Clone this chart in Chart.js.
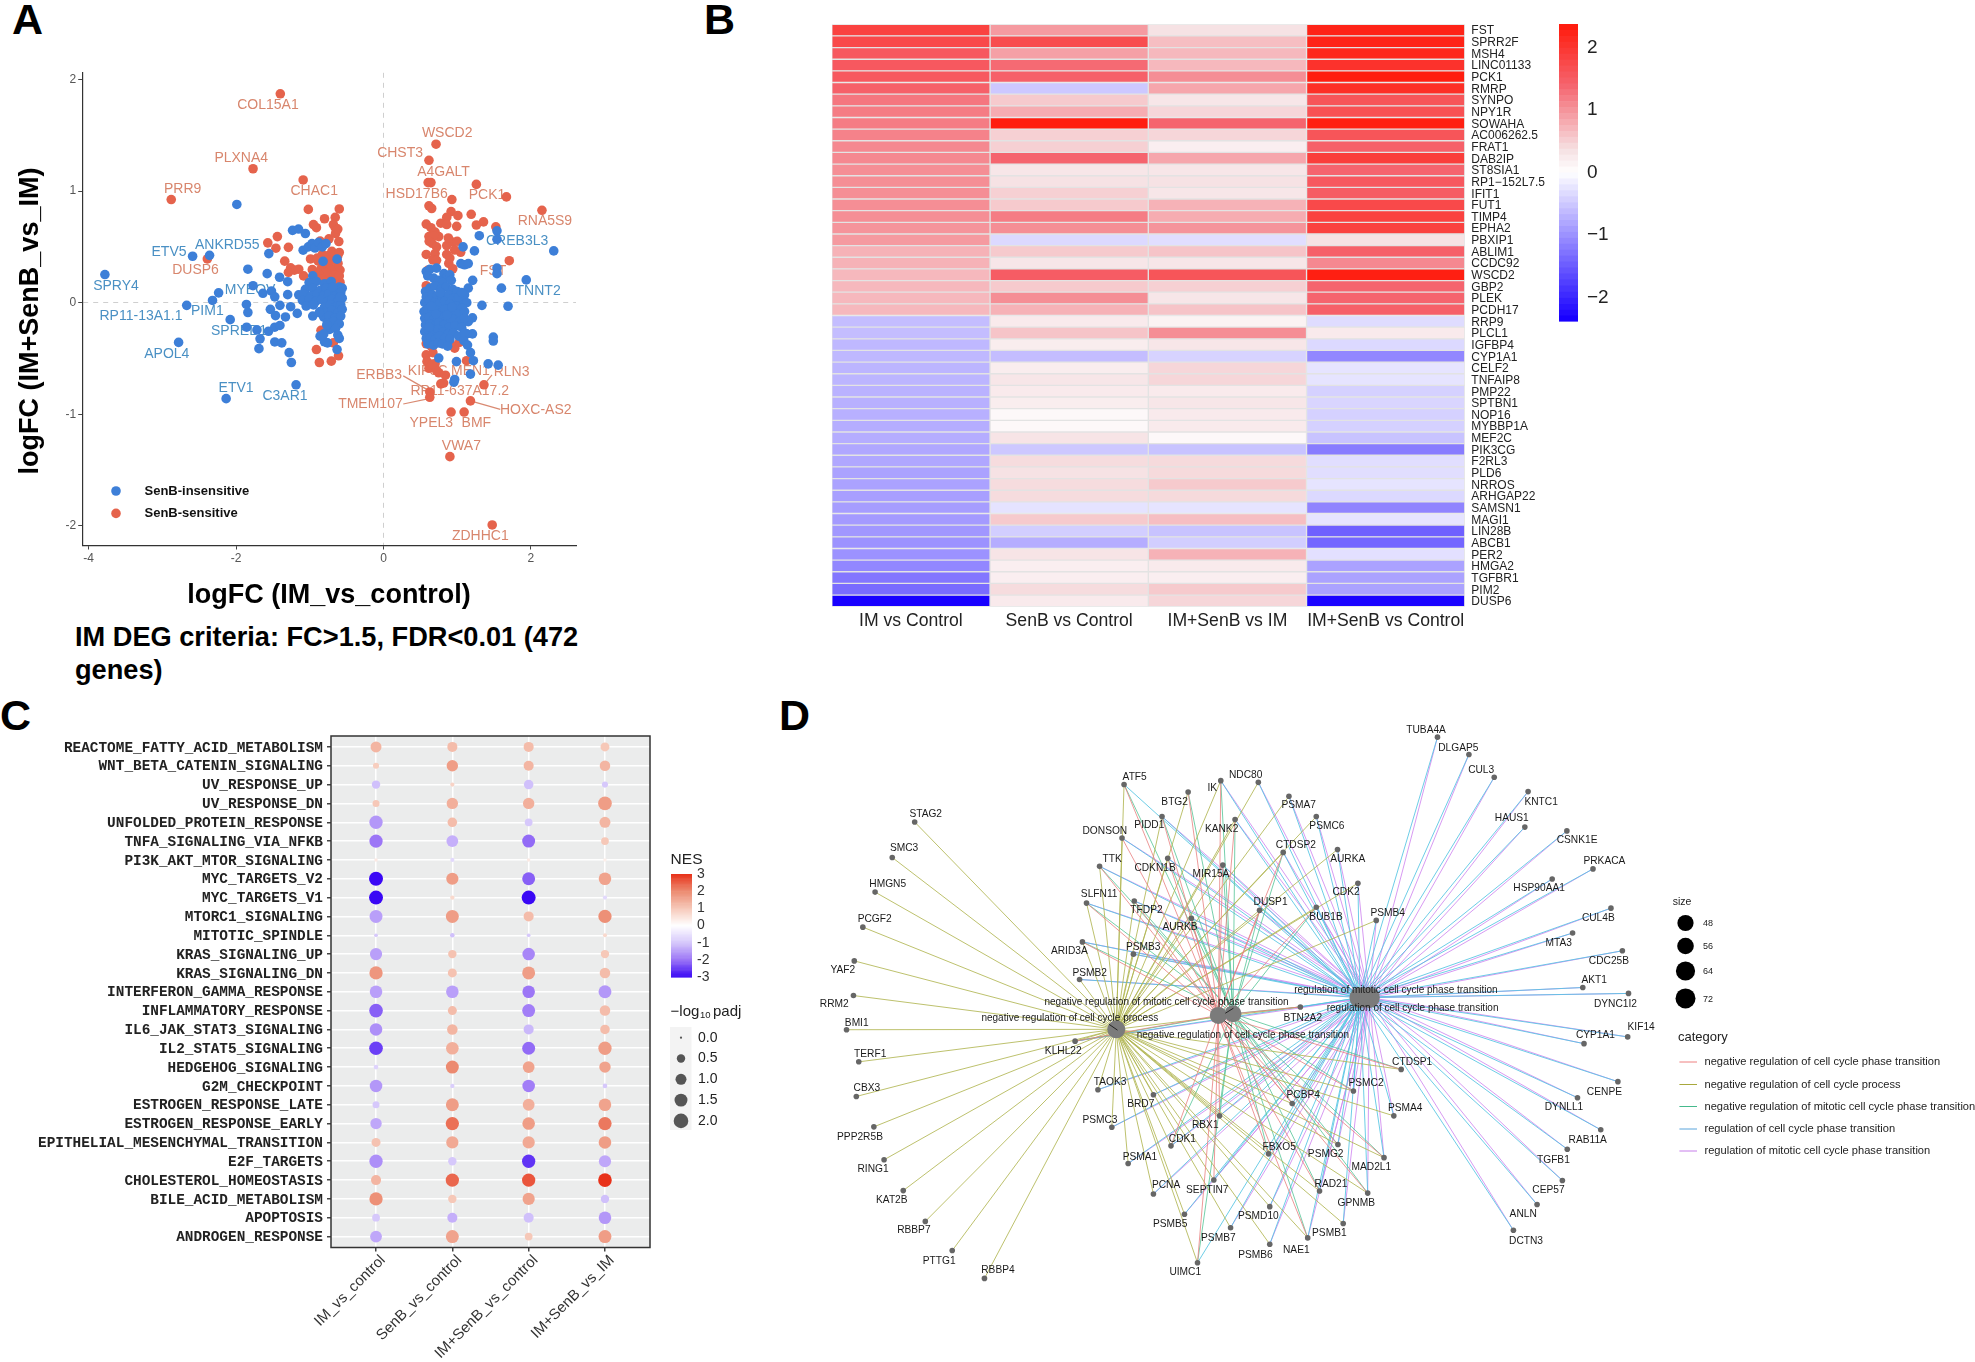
<!DOCTYPE html>
<html><head><meta charset="utf-8">
<script src="https://cdn.jsdelivr.net/npm/chart.js@4/dist/chart.umd.min.js"></script>
<style>
html,body{margin:0;padding:0;background:#fff}
#page{position:relative;width:1975px;height:1362px;overflow:hidden;background:#fff;font-family:"Liberation Sans",Arial,sans-serif}
canvas{position:absolute}
.tag{position:absolute;font-weight:bold;font-size:43px;line-height:43px;color:#000}
.note{position:absolute;font-weight:bold;font-size:27.2px;line-height:33px;color:#000;left:75px;top:620px;width:525px}
</style></head><body><div id="page">
<div class="tag" style="left:12px;top:-2px">A</div>
<div class="tag" style="left:704px;top:-2px">B</div>
<div class="tag" style="left:0px;top:694px">C</div>
<div class="tag" style="left:779px;top:694px">D</div>
<div class="note">IM DEG criteria: FC&gt;1.5, FDR&lt;0.01 (472 genes)</div>
</div>
<script>
/* ---------- Panel A data ---------- */
const senbInsensitive=[[-3.78,.252],[-2.78,-.356],[-2.67,-.024],[-2.59,.416],[-2.36,.424],[-2.32,.02],[-2.237,.088],[-2.135,-.86],[-2.08,-.152],[-1.99,.88],[-1.186,-.736],
[-1.234,.648],[-1.153,.66],[-1.06,.62],[-1.556,.44],[-1.84,.30],[-1.578,.26],[-1.41,.228],[-1.30,.188],[-1.77,.152],[-1.636,.084],[-1.52,.104],[-1.475,.052],[-1.30,.072],[-1.86,-.016],[-1.84,-.088],[-1.535,-.06],[-1.465,-.116],[-1.33,-.128],[-1.405,-.024],[-1.26,-.036],[-1.17,-.096],[-1.857,-.22],[-1.717,-.244],[-1.56,-.256],[-1.475,-.22],[-1.405,-.204],[-1.675,-.324],[-1.69,-.412],[-1.475,-.352],[-1.38,-.36],[-1.28,-.448],[-1.25,-.536],
[-1.09,.47],[-1.02,.5],[-.97,.53],[-.93,.49],[-.88,.54],[-.83,.5],[-.78,.53],[-.82,.37],[-.63,.39],
[-.96,.24],[-1.01,.18],[-.91,.19],[-.8,.17],[-.71,.19],[-.6,.14],
[-1.06,.12],[-.96,.13],[-.86,.11],[-.78,.13],[-.68,.12],[-.61,.1],[-.56,.13],[-1.15,.07],[-1.08,.08],[-.98,.06],[-.9,.08],[-.82,.06],[-.74,.08],[-.66,.06],[-.58,.09],
[-1.1,.02],[-1.01,.03],[-.92,.01],[-.84,.03],[-.76,.01],[-.7,.03],[-.62,.01],[-.56,.04],[-1.05,-.03],[-.95,-.02],[-.8,-.04],[-.72,-.02],[-.65,-.04],[-.58,-.02],
[-.86,-.08],[-.78,-.09],[-.7,-.07],[-.62,-.09],[-.56,-.06],[-.96,-.12],[-.81,-.13],[-.74,-.12],[-.66,-.14],[-.58,-.12],[-.76,-.18],[-.68,-.17],[-.6,-.19],[-.73,-.24],[-.65,-.23],[-.86,-.3],[-.81,-.28],[-.62,-.29],[-.6,-.32],[-.8,-.35],[-.76,-.36],[-.63,-.42],[-.87,-.09],[-.69,.14],[-.77,-.2],[-.59,.05],
[.58,.28],[.63,.3],[.72,.31],[.82,.26],[.85,.22],[.9,.25],[.6,.24],[.68,.22],[.75,.2],[.8,.18],[.92,.2],[1.05,.35],[1.1,.34],[1.15,.35],[1.08,.5],[1.234,.464],[1.3,.6],[1.54,.644],[1.54,.568],[1.54,.31],[1.54,.26],[1.6,.13],[1.21,.2],[1.15,.13],[1.1,.07],[1.336,-.024],[1.69,-.032],[2.31,.464],[1.937,.204],[1.49,-.308],[1.49,-.344],[1.42,-.548],[1.556,-.56],[1.22,-.52],[1.18,-.448],[.75,-.496],[.99,-.528],[1.18,-.64],[.966,-.688],[.955,-.712],[1.207,-.136],[1.207,-.28],[1.15,-.17],[1.13,-.28],
[.57,.1],[.63,.13],[.7,.15],[.78,.12],[.85,.14],[.94,.12],[1.0,.1],[.58,.05],[.66,.07],[.73,.06],[.8,.05],[.88,.07],[.95,.04],[1.03,.02],[1.08,.03],[1.13,.0],
[.56,.0],[.62,.02],[.69,.0],[.76,-.01],[.83,.01],[.9,-.01],[.98,-.03],[1.07,-.05],[.55,-.08],[.6,-.06],[.66,-.09],[.72,-.07],[.78,-.09],[.84,-.06],[.92,-.08],[1.0,-.1],[1.1,-.08],
[.56,-.14],[.62,-.13],[.68,-.15],[.74,-.12],[.8,-.14],[.87,-.16],[.95,-.15],[1.03,-.17],[1.1,-.14],[.57,-.2],[.63,-.19],[.69,-.21],[.75,-.18],[.82,-.2],[.89,-.22],[.97,-.21],[1.06,-.22],
[.56,-.26],[.62,-.25],[.68,-.27],[.74,-.24],[.81,-.26],[.88,-.28],[.95,-.27],[1.02,-.3],[1.1,-.27],[.58,-.32],[.64,-.31],[.7,-.33],[.76,-.3],[.83,-.32],[.9,-.33],[1.09,-.34],
[.6,-.37],[.68,-.38],[.74,-.36],[.8,-.37],[.87,-.39],[1.14,-.38],[.62,-.22],[.71,-.1],[.65,-.03],[.86,-.11],[.77,.09],[.93,-.04],[1.02,.05],[1.06,.09]];
const senbSensitive=[[-1.40,1.872],[-1.77,1.2],[-2.88,.924],[-2.39,.392],[-1.09,1.1],[-1.02,.836],[-.6,.84],[-.655,.764],[-.8,.752],[-.91,.672],[-.655,.672],[-.74,.572],[-.86,.552],[-.606,.548],[-1.44,.592],[-1.57,.536],[-1.46,.488],[-1.29,.496],[-1.34,.372],[-1.26,.312],[-1.21,.292],[-1.29,.272],[-1.084,.24],[-.966,.296],[-.99,.392],[-.885,.372],[-.75,.352],[-.644,.432],[-.617,.352],[-.7,.292],[-.59,.292],[-.75,.212],[-.59,.184],[-.655,.172],[-.848,-.248],[-.68,-.36],[-.91,-.42],[-.87,-.536],[-.708,-.524],[-.61,-.476],[-.9,.4],[-.8,.33],[-.85,.3],[-.7,.38],[-.64,.31],[-.95,.7],[-.68,.7],[-.72,.3],[-.66,.25],[-.78,.27],[-.62,.42],[-.83,.43],[-.76,.42],[-.7,.46],[-.6,.45],[-.88,.26],[-1.15,.3],[-.65,.62],[-.62,.66],[-.6,.24],[-.84,.21],
[.713,1.42],[.617,1.276],[.606,1.076],[.644,1.076],[1.26,1.06],[.928,.924],[1.668,.948],[2.15,.828],[.617,.868],[.654,.844],[.917,.816],[.858,.764],[1.01,.78],[1.19,.792],[1.357,.724],[1.26,.696],[1.524,.68],[.778,.712],[.858,.7],[.993,.684],[.58,.704],[.644,.672],[.7,.632],[.617,.592],[.75,.592],[.66,.532],[.94,.544],[.858,.512],[.966,.472],[1.047,.452],[.58,.432],[.70,.44],[.858,.432],[.67,.384],[.886,.352],[.94,.304],[1.707,.376],[.58,.152],[.6,.29],[.68,.6],[.62,.55],[.72,.5],[.88,.58],[1.0,.55],[.9,.4],[.72,.38],
[.58,-.368],[.644,-.388],[.58,-.468],[.67,-.448],[.59,-.528],[.7,-.548],[.617,-.588],[.75,-.628],[.778,-.728],[.816,-.72],[.966,-.408],[1.03,-.356],[.91,-.368],[1.127,-.52],[1.363,-.736],[.628,-.8],[.628,-.848],[1.18,-.88],[.917,-.98],[1.094,-.98],[.901,-1.38],[1.475,-1.992],[.72,-.608],[.66,-.55],[.84,-.65]];
const scatterLabelNames=["COL15A1","WSCD2","CHST3","PLXNA4","A4GALT","PRR9","CHAC1","HSD17B6","PCK1","RNA5S9","DUSP6","FST","ERBB3","RLN3","KIF5C","MEN1","RP11-637A17.2","TMEM107","HOXC-AS2","YPEL3","BMF","VWA7","ZDHHC1","ANKRD55","ETV5","CREB3L3","SPRY4","MYEOV","TNNT2","RP11-13A1.1","PIM1","SPRED1","APOL4","ETV1","C3AR1"];
const scatterLabelX=[-1.567,.864,.225,-1.93,.815,-2.725,-.94,.45,1.405,2.19,-2.55,1.486,-.059,1.738,.6,1.18,1.035,-.177,2.066,.649,1.26,1.057,1.314,-2.12,-2.91,1.813,-3.63,-1.81,2.098,-3.29,-2.39,-1.96,-2.94,-2.0,-1.336];
const scatterLabelY=[1.772,1.516,1.344,1.296,1.172,1.02,.996,.972,.96,.728,.288,.28,-.648,-.62,-.616,-.616,-.796,-.908,-.964,-1.08,-1.08,-1.288,-2.088,.52,.456,.552,.152,.112,.104,-.124,-.08,-.252,-.46,-.768,-.836];
const scatterLabelSensitiveCount=23;
const leaderFromX=[.268,.268,1.585,1.472],leaderFromY=[-.656,-.908,-.956,-.648],leaderToX=[.617,.617,1.18,1.363],leaderToY=[-.788,-.86,-.88,-.736];
/* ---------- Panel B data ---------- */
const heatGenes=["FST","SPRR2F","MSH4","LINC01133","PCK1","RMRP","SYNPO","NPY1R","SOWAHA","AC006262.5","FRAT1","DAB2IP","ST8SIA1","RP1−152L7.5","IFIT1","FUT1","TIMP4","EPHA2","PBXIP1","ABLIM1","CCDC92","WSCD2","GBP2","PLEK","PCDH17","RRP9","PLCL1","IGFBP4","CYP1A1","CELF2","TNFAIP8","PMP22","SPTBN1","NOP16","MYBBP1A","MEF2C","PIK3CG","F2RL3","PLD6","NRROS","ARHGAP22","SAMSN1","MAGI1","LIN28B","ABCB1","PER2","HMGA2","TGFBR1","PIM2","DUSP6"];
const heatColumns=["IM vs Control","SenB vs Control","IM+SenB vs IM","IM+SenB vs Control"];
const heatIM=[1.85,1.75,1.55,1.55,1.55,1.45,1.25,1.2,1.2,1.15,1.1,1.1,1.05,1.05,1.05,1.05,1.05,1,.95,.75,.75,.7,.7,.7,.7,-.6,-.6,-.65,-.65,-.68,-.68,-.7,-.72,-.72,-.75,-.75,-.8,-.8,-.85,-.85,-.88,-.9,-.92,-.95,-1,-1,-1.1,-1.25,-1.35,-2.33];
const heatSenB=[.95,1.7,.9,1.35,1.45,-.5,.55,.8,2.35,.5,.5,1.4,.3,.35,.5,.55,1.2,1.05,-.35,.55,.3,1.5,.55,1.05,.75,.25,.6,.22,-.6,.22,.3,.25,.22,.08,.08,.32,-.5,.4,.35,.4,.4,-.26,.55,-.45,-.75,.32,.2,.2,.4,.25];
const heatCombo=[.35,.65,.7,.7,1.05,.85,.3,.45,1.4,.45,.2,.85,.3,.35,.3,.75,.8,1,-.3,.6,.3,1.6,.5,.3,.6,.15,1.05,.3,-.4,.45,.45,.25,.3,.25,.25,.08,-.55,.42,.42,.55,.42,-.25,.65,-.55,-.45,.75,.25,.2,.55,.45];
const heatComboCtrl=[2.25,2.25,2.2,2.05,2.32,2.1,1.6,1.65,2.3,1.6,1.45,1.9,1.4,1.55,1.5,1.75,1.85,1.85,.35,1.45,1.1,2.3,1.4,1.4,1.45,-.32,.25,-.35,-1.1,-.25,-.25,-.42,-.38,-.42,-.42,-.55,-1.2,-.3,-.3,-.25,-.35,-1.12,-.25,-1.45,-1.4,-.28,-.85,-.85,-.85,-2.3];
const heatTicks=[-2,-1,0,1,2];
/* ---------- Panel C data ---------- */
const pathways=["REACTOME_FATTY_ACID_METABOLISM","WNT_BETA_CATENIN_SIGNALING","UV_RESPONSE_UP","UV_RESPONSE_DN","UNFOLDED_PROTEIN_RESPONSE","TNFA_SIGNALING_VIA_NFKB","PI3K_AKT_MTOR_SIGNALING","MYC_TARGETS_V2","MYC_TARGETS_V1","MTORC1_SIGNALING","MITOTIC_SPINDLE","KRAS_SIGNALING_UP","KRAS_SIGNALING_DN","INTERFERON_GAMMA_RESPONSE","INFLAMMATORY_RESPONSE","IL6_JAK_STAT3_SIGNALING","IL2_STAT5_SIGNALING","HEDGEHOG_SIGNALING","G2M_CHECKPOINT","ESTROGEN_RESPONSE_LATE","ESTROGEN_RESPONSE_EARLY","EPITHELIAL_MESENCHYMAL_TRANSITION","E2F_TARGETS","CHOLESTEROL_HOMEOSTASIS","BILE_ACID_METABOLISM","APOPTOSIS","ANDROGEN_RESPONSE"];
const contrasts=["IM_vs_control","SenB_vs_control","IM+SenB_vs_control","IM+SenB_vs_IM"];
const nesIM=[1.3,.9,-1.1,1.0,-1.6,-2.0,.4,-3,-3,-1.5,-1.0,-1.5,1.8,-1.5,-2.2,-1.7,-2.5,-.8,-1.6,-1.0,-1.4,1.1,-1.7,1.3,1.9,-1.0,-1.4];
const nesSenB=[1.2,1.7,.8,1.4,1.2,-1.3,-.7,1.7,.7,1.7,-1.1,1.1,1.1,-1.5,1.2,1.3,1.4,2.0,-.9,1.7,2.3,1.5,-1.0,2.4,1.0,-1.3,1.6];
const nesCombo=[1.2,1.3,-1.1,1.4,-1.0,-2.1,.4,-2.2,-3,1.2,-1.0,-1.8,1.7,-2.0,-1.9,-1.2,-2.1,1.6,-1.9,1.4,1.7,1.5,-2.6,2.6,1.6,-1.1,1.0];
const nesComboIM=[1.0,1.3,-1.0,1.7,1.3,1.0,.3,1.6,-.7,1.9,.7,1.0,1.2,-1.6,1.2,1.2,1.7,1.6,-1.0,1.6,2.2,1.7,-1.4,3,-1.1,-1.6,1.7];
const padjIM=[1.0,.2,.5,.3,1.6,1.6,.02,1.8,1.8,1.5,.03,1.3,1.6,1.4,1.7,1.4,1.7,.08,1.4,.3,1.1,.6,1.6,.8,1.6,.4,1.2];
const padjSenB=[.8,1.1,.05,1.1,.7,1.2,.05,1.3,.06,1.5,.07,.5,.6,1.4,.6,.9,1.4,1.5,.06,1.5,1.6,1.3,.5,1.6,.5,.8,1.5];
const padjCombo=[.8,.8,.7,1.1,.4,1.5,.02,1.5,1.8,.8,.03,1.4,1.5,1.4,1.5,.8,1.5,1.2,1.4,1.2,1.4,1.3,1.6,1.6,1.3,.8,.4];
const padjComboIM=[.6,.9,.2,1.7,1.0,.4,.02,1.4,.05,1.6,.04,.5,.9,1.5,.9,.7,1.6,1.1,.08,1.4,1.6,1.4,1.3,1.7,.5,1.4,1.5];
const nesTicks=[-3,-2,-1,0,1,2,3];
const padjLegend=[0,.5,1,1.5,2];
/* ---------- Panel D data (graph layout units) ---------- */
const hubNames=["negative regulation of cell cycle phase transition","negative regulation of cell cycle process","negative regulation of mitotic cell cycle phase transition","regulation of cell cycle phase transition","regulation of mitotic cell cycle phase transition"];
const hubKeys=["R","O","G","B","P"];
const hubX=[1025,775,1061,1372,1395],hubY=[747,780,743,705,705];
const hubLabelX=[1085,661,898,1501,1460],hubLabelY=[793,754,716,729,687];
const hubLeaderX=[757,778,1040,1058,1042,1062],hubLeaderY=[768,782,760,773,742,730];
const geneNames=["STAG2","SMC3","HMGN5","PCGF2","YAF2","RRM2","BMI1","TERF1","CBX3","PPP2R5B","RING1","KAT2B","RBBP7","PTTG1","RBBP4",
"TUBA4A","DLGAP5","CUL3","KNTC1","HAUS1","CSNK1E","PRKACA","HSP90AA1","CUL4B","MTA3","CDC25B","AKT1","DYNC1I2","KIF14","CYP1A1","CENPE","DYNLL1","RAB11A","TGFB1","CEP57","ANLN","DCTN3",
"ATF5","IK","NDC80","BTG2","PSMA7","PIDD1","KANK2","PSMC6","DONSON","CTDSP2","AURKA","CDKN1B","MIR15A","TTK","CDK2","SLFN11","TFDP2","DUSP1","BUB1B","AURKB","PSMB4","ARID3A","PSMB3","PSMB2","BTN2A2","KLHL22","CTDSP1","TAOK3","BRD7","PSMC2","PCBP4","PSMC3","PSMA4","RBX1","CDK1","PSMA1","FBXO5","PSMG2","MAD2L1","PCNA","SEPTIN7","RAD21","GPNMB","PSMD10","PSMB5","PSMB7","PSMB1","PSMB6","NAE1","UIMC1"];
const geneX=[281,226,184,154,133,131,114,144,138,181,206,253,307,373,452,
1562,1639,1701,1784,1776,1879,1943,1843,1987,1893,2015,1918,2030,2028,1921,2004,1905,1962,1880,1868,1806,1748,
794,1031,1123,951,1198,887,1066,1265,789,1184,1317,901,1036,734,1367,702,819,1126,1265,959,1412,692,817,685,1226,674,1473,730,866,1356,1206,764,1455,1028,909,804,1148,1318,1431,866,1014,1273,1391,1151,942,1055,1331,1151,1244,974];
const geneY=[289,373,455,538,618,700,781,857,939,1011,1089,1162,1235,1304,1370,
88,129,183,217,301,310,400,424,493,552,594,681,695,798,814,904,942,1018,1064,1138,1195,1256,
200,191,195,218,228,276,283,276,327,361,354,375,391,394,434,481,476,498,491,517,522,573,602,662,727,808,875,923,935,926,956,1012,985,985,1056,1098,1075,1053,1084,1170,1137,1163,1168,1200,1218,1250,1240,1289,1274,1333];
const geneHubs=["O","O","O","O","O","O","O","O","O","O","O","O","O","O","O",
"BP","BP","BP","BP","BP","BP","BP","BP","BP","BP","BP","BP","BP","BP","BP","BP","BP","BP","BP","BP","BP","BP",
"ROGB","ROGBP","OBP","ROG","OBP","ROGBP","ROGBP","OBP","ROBP","ROGBP","OBP","ROGBP","ROGBP","ROGBP","OBP","ROGBP","ROGBP","ROGBP","ROGBP","ROGBP","OBP","ROGBP","OBP","OBP","ROGBP","ROGBP","ROG","OBP","OBP","ROGBP","ROGBP","OBP","OBP","ROGBP","ROGBP","OBP","ROGBP","ROGBP","ROGBP","OBP","ROBP","ROGBP","ROGBP","OBP","OBP","OBP","OBP","OBP","ROGBP","ROGB"];
const geneLabelX=[308,255,215,183,105,84,139,172,164,147,179,225,279,341,485,
1534,1613,1669,1816,1744,1904,1971,1811,1956,1859,1982,1946,1998,2061,1949,1971,1872,1930,1846,1834,1772,1779,
820,1010,1092,918,1222,856,1033,1291,747,1215,1342,870,1007,765,1338,733,849,1153,1289,931,1440,660,841,710,1232,645,1500,760,835,1387,1233,735,1483,993,937,833,1174,1288,1400,897,998,1301,1363,1123,907,1025,1297,1116,1216,944];
const geneLabelY=[270,352,436,520,639,721,765,838,920,1035,1111,1184,1256,1329,1350,
71,114,166,242,281,331,382,445,516,575,618,664,721,776,795,928,965,1042,1090,1160,1218,1281,
182,208,177,242,249,296,306,298,310,343,376,398,412,378,456,461,499,480,514,539,505,595,586,646,754,832,857,906,957,908,937,996,967,1006,1040,1082,1059,1076,1106,1150,1160,1148,1191,1222,1242,1274,1262,1314,1302,1356];
const sizeLegend=[48,56,64,72];

/* ---------- helpers ---------- */
const FONT='"Liberation Sans",Arial,sans-serif';
Chart.defaults.font.family=FONT;
Chart.defaults.animation=false;
function canvasAt(l,t,w,h){const c=document.createElement('canvas');c.width=w;c.height=h;c.style.left=l+'px';c.style.top=t+'px';c.style.width=w+'px';c.style.height=h+'px';document.getElementById('page').appendChild(c);return c;}
function txt(ctx,s,x,y,font,color,align,rot){ctx.save();ctx.font=font;ctx.fillStyle=color;ctx.textAlign=align||'center';ctx.textBaseline='middle';ctx.translate(x,y);if(rot)ctx.rotate(rot);ctx.fillText(s,0,0);ctx.restore();}
function mix(a,b,t){return [0,1,2].map(i=>Math.round(a[i]+(b[i]-a[i])*t));}
function heatColor(v){const t=Math.min(1,Math.abs(v)/2.33);
  if(v<0){return `rgb(${mix([255,255,255],[24,0,255],t)})`;}
  const W=[255,255,255],A=[246,226,228],B=[245,100,110],C=[255,29,15];
  const c=t<.15?mix(W,A,t/.15):t<.6?mix(A,B,(t-.15)/.45):mix(B,C,(t-.6)/.4);return `rgb(${c})`;}
function nesColor(v){
  const P=[[255,255,255],[246,200,184],[236,138,112],[232,50,26]],N=[[255,255,255],[214,200,251],[156,118,246],[58,8,245]];
  const S=v>=0?P:N,a=Math.min(2.999,Math.abs(v)),i=Math.floor(a);const c=mix(S[i],S[i+1],a-i);return `rgb(${c})`;}
function padjRadius(s){return 1.1+6.2*Math.sqrt(s/2);}
function colorbar(l,t,w,h,lo,hi,ticks,fn,font,steps){
  const P=30,c=canvasAt(l,t-P,w+40,h+2*P);
  new Chart(c,{type:'bar',data:{labels:[''],datasets:[{data:[null]}]},
    plugins:[{id:'grad',beforeDatasetsDraw(ch){const a=ch.chartArea,x=ch.ctx;for(let i=0;i<steps;i++){const v=hi-(hi-lo)*(i+.5)/steps;x.fillStyle=fn(v);const y0=a.top+a.height*i/steps;x.fillRect(a.left,y0,a.width,a.height/steps+.6);}}}],
    options:{responsive:false,devicePixelRatio:1,layout:{padding:{top:P,bottom:P,left:0,right:0}},plugins:{legend:{display:false},tooltip:{enabled:false}},
    scales:{x:{display:false},y:{position:'right',min:lo,max:hi,afterFit(s){s.width=40},afterBuildTicks(s){s.ticks=ticks.map(v=>({value:v}))},grid:{display:false,drawTicks:false},border:{display:false},
      ticks:{padding:font.pad,font:{size:font.size},color:font.color,autoSkip:false,callback:v=>String(v).replace('-',font.minus)}}}}});
}

/* ---------- Panel A ---------- */
new Chart(canvasAt(0,0,620,612),{type:'scatter',
 data:{datasets:[
  {label:'SenB-insensitive',data:senbInsensitive.map(p=>({x:p[0],y:p[1]})),backgroundColor:'#3D7FD8',pointRadius:4.8,borderWidth:0},
  {label:'SenB-sensitive',data:senbSensitive.map(p=>({x:p[0],y:p[1]})),backgroundColor:'#E5634C',pointRadius:4.8,borderWidth:0}]},
 plugins:[{id:'labelsA',beforeDatasetsDraw(ch){const x=ch.scales.x,y=ch.scales.y,c=ch.ctx;
   c.save();c.strokeStyle='#D98A72';c.lineWidth=1.2;
   leaderFromX.forEach((v,i)=>{c.beginPath();c.moveTo(x.getPixelForValue(v),y.getPixelForValue(leaderFromY[i]));c.lineTo(x.getPixelForValue(leaderToX[i]),y.getPixelForValue(leaderToY[i]));c.stroke();});c.restore();
   scatterLabelNames.forEach((n,i)=>txt(c,n,x.getPixelForValue(scatterLabelX[i]),y.getPixelForValue(scatterLabelY[i]),'14px '+FONT,i<scatterLabelSensitiveCount?'#D8866D':'#4A90C4'));
   txt(c,'logFC (IM+SenB_vs_IM)',31,321,'bold 27px '+FONT,'#000','center',-Math.PI/2);
   [['SenB-insensitive','#3D7FD8',491],['SenB-sensitive','#E5634C',513.4]].forEach(r=>{c.fillStyle=r[1];c.beginPath();c.arc(116,r[2],4.8,0,7);c.fill();txt(c,r[0],144.5,r[2],'bold 13px '+FONT,'#111','left');});
 }}],
 options:{responsive:false,devicePixelRatio:1,layout:{padding:{top:72.8,right:44,left:0,bottom:0}},plugins:{legend:{display:false},tooltip:{enabled:false}},
  scales:{
   x:{type:'linear',min:-4.088,max:2.612,afterFit(s){s.height=66.5},
     grid:{color:c=>c.tick&&c.tick.value===0?'#cfcfcf':'transparent',tickColor:'#444',tickLength:4},border:{color:'#333',width:1.2,dash:[5,5]},
     ticks:{stepSize:2,includeBounds:false,color:'#555',font:{size:12},padding:2,maxRotation:0,callback:v=>String(v)},
     title:{display:true,text:'logFC (IM_vs_control)',font:{size:27,weight:'bold'},color:'#000',padding:0}},
   y:{type:'linear',min:-2.176,max:2.06,afterFit(s){s.width=82.2},
     grid:{color:c=>c.tick&&c.tick.value===0?'#cfcfcf':'transparent',tickColor:'#444',tickLength:4},border:{color:'#333',width:1.2,dash:[5,5]},
     ticks:{stepSize:1,includeBounds:false,color:'#555',font:{size:12},padding:2,callback:v=>String(v)}}}}});

/* ---------- Panel B ---------- */
const heatSeries=[heatIM,heatSenB,heatCombo,heatComboCtrl];
new Chart(canvasAt(800,0,760,640),{type:'bar',
 data:{labels:heatGenes,datasets:heatColumns.map((name,j)=>({label:name,grouped:false,barPercentage:1,categoryPercentage:1,
   data:heatSeries[j].map((v,i)=>({y:heatGenes[i],x:[j,j+1],v})),
   backgroundColor:c=>c.raw?heatColor(c.raw.v):'#fff',borderColor:'#e3e3e3',borderWidth:1,borderSkipped:false}))},
 options:{indexAxis:'y',responsive:false,devicePixelRatio:1,layout:{padding:{top:24.3,left:31.8,right:0,bottom:0}},plugins:{legend:{display:false},tooltip:{enabled:false}},
  scales:{
   x:{type:'linear',min:0,max:4,afterFit(s){s.height=33.3},afterBuildTicks(s){s.ticks=[.5,1.5,2.5,3.5].map(v=>({value:v}))},grid:{display:false,drawTicks:false},border:{display:false},
     ticks:{autoSkip:false,maxRotation:0,padding:4,color:'#222',font:{size:17.6},callback:v=>heatColumns[v-.5]}},
   y:{type:'category',position:'right',afterFit(s){s.width=95.2},grid:{display:false,drawTicks:false},border:{display:false},
     ticks:{autoSkip:false,padding:6.5,labelOffset:1,color:'#222',font:{size:12}}}}}});
colorbar(1558.6,24,19.8,297,-2.376,2.376,heatTicks,heatColor,{size:19,color:'#222',pad:9,minus:'−'},50);

/* ---------- Panel C ---------- */
const nesSeries=[nesIM,nesSenB,nesCombo,nesComboIM],padjSeries=[padjIM,padjSenB,padjCombo,padjComboIM];
new Chart(canvasAt(0,700,760,662),{type:'bubble',
 data:{datasets:contrasts.map((name,j)=>({label:name,
   data:pathways.map((p,i)=>({x:j+1,y:i+1,r:padjRadius(padjSeries[j][i])})),
   backgroundColor:pathways.map((p,i)=>nesColor(nesSeries[j][i])),borderWidth:0}))},
 plugins:[{id:'panelC',
  beforeDraw(ch){const a=ch.chartArea,c=ch.ctx;c.fillStyle='#EBECEC';c.fillRect(a.left,a.top,a.width,a.height);},
  afterDraw(ch){const a=ch.chartArea,c=ch.ctx;c.strokeStyle='#333';c.lineWidth=1.5;c.strokeRect(a.left,a.top,a.width,a.height);
   txt(c,'NES',670.6,159.6,'15.5px '+FONT,'#222','left');
   txt(c,'−log',670.6,311.5,'15px '+FONT,'#222','left');
   txt(c,'10',700,315,'9.5px '+FONT,'#222','left');
   txt(c,'padj',713,311.5,'15px '+FONT,'#222','left');
   c.fillStyle='#F3F3F3';c.fillRect(670,327,21.5,103);
   padjLegend.forEach((s,i)=>{const y=337.7+20.8*i;c.fillStyle='#555';c.beginPath();c.arc(681,y,padjRadius(s),0,7);c.fill();txt(c,s.toFixed(1),698,y,'14px '+FONT,'#222','left');});
 }}],
 options:{responsive:false,devicePixelRatio:1,layout:{padding:{top:36,right:110,left:0,bottom:0}},plugins:{legend:{display:false},tooltip:{enabled:false}},
  scales:{
   x:{type:'linear',min:.41,max:4.59,afterFit(s){s.height=114.5},afterBuildTicks(s){s.ticks=contrasts.map((n,i)=>({value:i+1}))},
     grid:{color:'#fff',lineWidth:1.5,tickColor:'#444',tickLength:4},border:{display:false},
     ticks:{autoSkip:false,minRotation:45,maxRotation:45,padding:0,labelOffset:7,color:'#333',font:{size:15},callback:v=>contrasts[v-1]}},
   y:{type:'linear',min:.42,max:27.58,reverse:true,afterFit(s){s.width=331},afterBuildTicks(s){s.ticks=pathways.map((n,i)=>({value:i+1}))},
     grid:{color:'#fff',lineWidth:1.5,tickColor:'#444',tickLength:4},border:{display:false},
     ticks:{autoSkip:false,padding:4,labelOffset:1,color:'#222',font:{family:'"Liberation Mono",monospace',size:14.4,weight:'bold'},callback:v=>pathways[v-1]}}}}});
colorbar(670.6,873.5,21,103,-3,3,nesTicks,nesColor,{size:14,color:'#333',pad:5,minus:'-'},120);

/* ---------- Panel D ---------- */
const edgeColors={R:'rgba(232,128,128,.8)',O:'rgba(178,182,84,.85)',G:'rgba(84,196,150,.8)',B:'rgba(84,196,226,.85)',P:'rgba(208,136,240,.85)'};
const legendColors=['#EE8080','#A8A83C','#45B98C','#5BA5DC','#C77FEA'];
function edgesFor(k){const h=hubKeys.indexOf(k),pts=[];geneNames.forEach((g,i)=>{if(geneHubs[i].includes(k)){pts.push({x:hubX[h],y:hubY[h]},{x:geneX[i],y:geneY[i]},{x:NaN,y:NaN});}});return pts;}
new Chart(canvasAt(760,700,1215,662),{type:'scatter',
 data:{datasets:[
  {label:'genes',data:geneNames.map((g,i)=>({x:geneX[i],y:geneY[i]})),backgroundColor:'#666',pointRadius:2.8,borderWidth:0},
  {label:'terms',data:hubKeys.map((k,i)=>({x:hubX[i],y:hubY[i]})),backgroundColor:'#7b7b7b',pointRadius:[8.5,9,8.5,10.5,10.5],borderWidth:0},
  ...hubKeys.map((k,i)=>({label:hubNames[i],data:edgesFor(k),showLine:true,spanGaps:false,borderColor:edgeColors[k],borderWidth:1,pointRadius:0}))]},
 plugins:[{id:'labelsD',afterDatasetsDraw(ch){const x=ch.scales.x,y=ch.scales.y,c=ch.ctx;
   c.strokeStyle='#222';c.lineWidth=1;for(let i=0;i<hubLeaderX.length;i+=2){c.beginPath();c.moveTo(x.getPixelForValue(hubLeaderX[i]),y.getPixelForValue(hubLeaderY[i]));c.lineTo(x.getPixelForValue(hubLeaderX[i+1]),y.getPixelForValue(hubLeaderY[i+1]));c.stroke();}
   geneNames.forEach((n,i)=>txt(c,n,x.getPixelForValue(geneLabelX[i]),y.getPixelForValue(geneLabelY[i]),'10.2px '+FONT,'#1a1a1a'));
   hubNames.forEach((n,i)=>txt(c,n,x.getPixelForValue(hubLabelX[i]),y.getPixelForValue(hubLabelY[i]),'10px '+FONT,'#1a1a1a'));
   txt(c,'size',922,202.6,'10.5px '+FONT,'#222','center');
   const ys=[223,246,271,298.4],rs=[8.1,8.3,9.6,10];
   sizeLegend.forEach((s,i)=>{c.fillStyle='#000';c.beginPath();c.arc(925.5,ys[i],rs[i],0,7);c.fill();txt(c,String(s),943,ys[i]+1,'9px '+FONT,'#222','left');});
   txt(c,'category',918,337.7,'13px '+FONT,'#222','left');
   const ly=[362,384.5,406.5,429,451];
   hubNames.forEach((n,i)=>{c.strokeStyle=legendColors[i];c.lineWidth=1;c.beginPath();c.moveTo(919.4,ly[i]);c.lineTo(937,ly[i]);c.stroke();txt(c,n,944.5,ly[i],'11.1px '+FONT,'#222','left');});
 }}],
 options:{responsive:false,devicePixelRatio:1,layout:{padding:0,autoPadding:false},plugins:{legend:{display:false},tooltip:{enabled:false}},
  scales:{x:{type:'linear',display:false,min:-98,max:2879},y:{type:'linear',display:false,min:0,max:1568,reverse:true}}}});
</script></body></html>
